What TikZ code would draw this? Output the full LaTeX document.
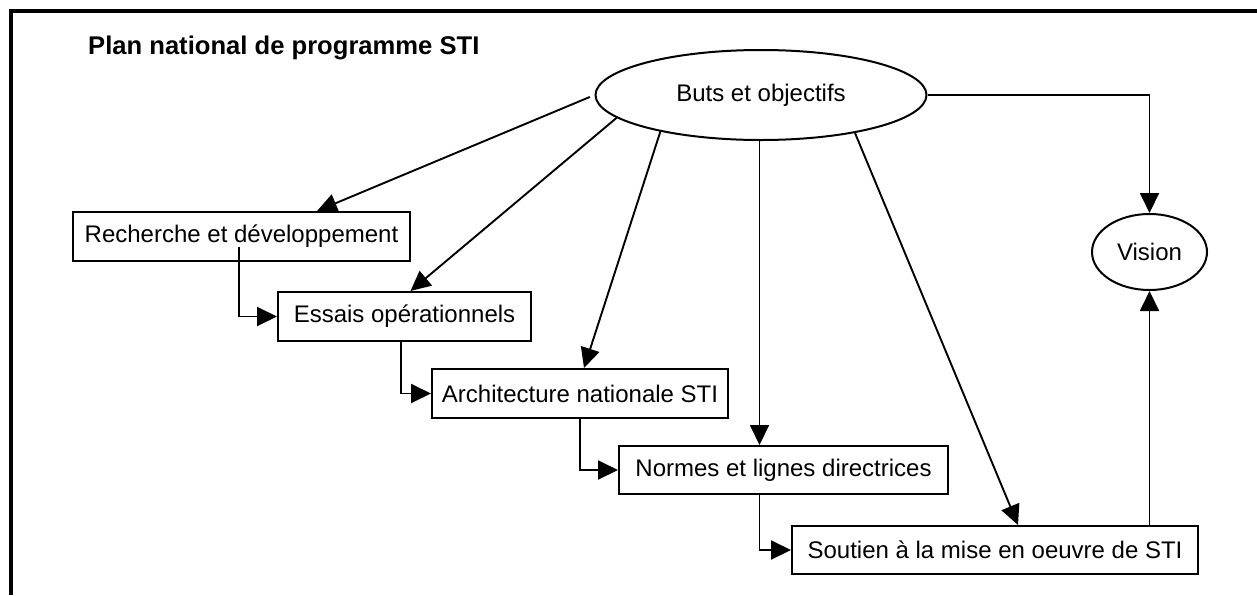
\documentclass[tikz,border=0pt]{standalone}
\usepackage{fontspec}
\setmainfont{Liberation Sans}
\usetikzlibrary{arrows.meta,calc,shapes.geometric}
\begin{document}
\begin{tikzpicture}[x=1pt,y=-1pt,
  stepbox/.style={draw,line width=2pt,inner sep=0pt,font=\fontsize{24}{28}\selectfont},
  oval/.style={ellipse,draw,line width=2pt,inner sep=0pt,font=\fontsize{24}{28}\selectfont},
  link/.style={line width=1.9pt,-{Triangle[length=20pt,width=19pt]}},
  frameline/.style={line width=3.6pt}]
\useasboundingbox (0,0) rectangle (1257,595);

% outer frame
\draw[frameline] (11,595) -- (11,11) -- (1257,11);

% title
\node[font=\bfseries\fontsize{25.6}{30}\selectfont, anchor=west, inner sep=0pt] (title) at (88,48) {Plan national de programme STI};

% goals and vision
\node[oval, minimum width=331pt, minimum height=90pt] (buts) at (761,95) {Buts et objectifs};
\node[oval, minimum width=115pt, minimum height=76pt] (vis) at (1149.5,252) {Vision};

% programme steps
\node[stepbox, minimum width=337pt, minimum height=49pt] (rd) at (241.5,236.5) {Recherche et développement};
\node[stepbox, minimum width=253pt, minimum height=49pt] (es) at (404.5,316.5) {Essais opérationnels};
\node[stepbox, minimum width=296pt, minimum height=49pt] (ar) at (580,393.5) {Architecture nationale STI};
\node[stepbox, minimum width=329pt, minimum height=48pt] (no) at (783.5,470) {Normes et lignes directrices};
\node[stepbox, minimum width=406pt, minimum height=48pt] (so) at (995,550) {Soutien à la mise en oeuvre de STI};

% arrival points on the step boxes
\coordinate (rdtip) at ($(rd.north)+(75.5,0)$);
\coordinate (estip) at ($(es.north)+(6,0)$);
\coordinate (artip) at ($(ar.north)+(4,0)$);
\coordinate (notip) at ($(no.north)+(-24,0)$);
\coordinate (sotip) at ($(so.north)+(23,0)$);

% goals feed every step
\draw[link, shorten <=5pt] (buts.west) -- (rdtip);
\draw[link] (buts.189) -- (estip);
\draw[link] (buts.200) -- (artip);
\draw[link] (buts.south -| notip) -- (notip);
\draw[link] (buts.338) -- (sotip);
\draw[link] (buts.east) -| (vis.north);

% chain of steps
\draw[link] ($(rd.south)+(-2.5,-15)$) |- (es.west);
\draw[link] ($(es.south)+(-3.5,0)$) |- (ar.west);
\draw[link] (ar.south) |- (no.west);
\draw[link] ($(no.south)+(-24,0)$) |- (so.west);

% implementation leads to the vision
\draw[link] (so.north -| vis.south) -- (vis.south);
\end{tikzpicture}
\end{document}
